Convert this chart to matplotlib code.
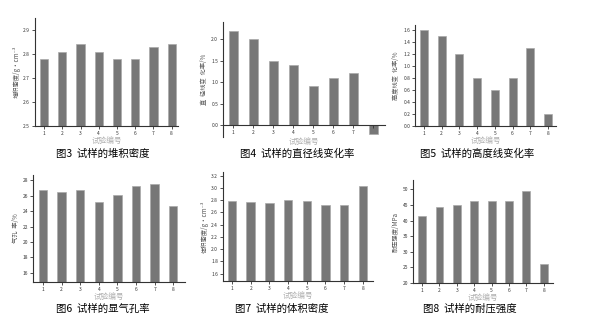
import numpy as np
import matplotlib
matplotlib.use('Agg')
import matplotlib.pyplot as plt

plt.rcParams['font.family'] = ['Noto Sans CJK SC', 'DejaVu Sans']
plt.rcParams['axes.unicode_minus'] = False

W, H = 608, 334

samples = [1, 2, 3, 4, 5, 6, 7, 8]

# 各图数据
bulk_density = [2.78, 2.81, 2.84, 2.81, 2.78, 2.78, 2.83, 2.84]
diam_change = [2.2, 2.0, 1.5, 1.4, 0.9, 1.1, 1.2, -0.2]
height_change = [1.6, 1.5, 1.2, 0.8, 0.6, 0.8, 1.3, 0.2]
porosity = [26.8, 26.45, 26.7, 25.2, 26.05, 27.25, 27.5, 24.7]
vol_density = [2.79, 2.77, 2.75, 2.81, 2.78, 2.72, 2.72, 3.03]
strength = [41.4, 44.5, 44.9, 46.3, 46.3, 46.3, 49.5, 26.0]

captions = ['图3  试样的堆积密度', '图4  试样的直径线变化率', '图5  试样的高度线变化率',
            '图6  试样的显气孔率', '图7  试样的体积密度', '图8  试样的耐压强度']
ylabels = ['堆积密度/g·cm⁻³', '直  径线变  化率/%', '高度线变  化率/%',
           '气孔  率/%', '体积密度/g·cm⁻³', '耐压强度/MPa']

# (left, right, top, bottom) 像素, xlim, ylim, yticks
panels = [
    (bulk_density, (35, 178, 18, 126), (0.5, 8.35), (2.5, 2.95), np.arange(2.5, 2.91, 0.1), '%.1f'),
    (diam_change, (223, 385, 22, 137), (0.5, 8.6), (-0.28, 2.4), np.arange(0, 2.01, 0.5), '%.1f'),
    (height_change, (415, 556, 25, 126), (0.5, 8.45), (0, 1.68), np.arange(0, 1.61, 0.2), '%.1f'),
    (porosity, (33, 185, 175, 282), (0.46, 8.63), (14.8, 28.7), np.arange(16, 28.1, 2), '%d'),
    (vol_density, (223, 373, 172, 281), (0.52, 8.54), (1.48, 3.26), np.arange(1.6, 3.21, 0.2), '%.1f'),
    (strength, (413, 553, 180, 283), (0.48, 8.53), (20, 53), np.arange(20, 50.1, 5), '%d'),
]
cap_pos = [(103, 154), (297, 154), (477, 154), (103, 309), (282, 309), (470, 309)]

fig = plt.figure(figsize=(W / 100, H / 100), dpi=100)

for i, (vals, (l, r, t, b), xl, yl, yt, fmt) in enumerate(panels):
    ax = fig.add_axes([l / W, 1 - b / H, (r - l) / W, (b - t) / H])
    ax.bar(samples, vals, width=0.45, color='#777777', edgecolor='#aaaaaa', linewidth=0.5)
    ax.set_xlim(*xl)
    ax.set_ylim(*yl)
    ax.set_yticks(yt)
    ax.set_yticklabels([fmt % v for v in yt])
    ax.set_xticks(samples)
    if i == 1:
        ax.set_xticklabels([str(s) for s in samples[:7]] + [''])
        ax.spines['bottom'].set_position(('data', 0))
    for s in ['top', 'right']:
        ax.spines[s].set_visible(False)
    for s in ['left', 'bottom']:
        ax.spines[s].set_linewidth(0.8)
        ax.spines[s].set_color('#333333')
    ax.tick_params(labelsize=3.5, length=2, width=0.6, pad=1.5, colors='#333333')
    ax.set_ylabel(ylabels[i], fontsize=4.5, color='#555555', labelpad=2)
    ax.set_xlabel('试验编号', fontsize=5.5, color='#b0b0b0', labelpad=1)
    if i == 1:
        ax.xaxis.set_label_coords(0.5, -0.005)
    cx, cy = cap_pos[i]
    fig.text(cx / W, 1 - cy / H, captions[i], fontsize=7.5, ha='center', va='center', color='black')

fig.savefig('out.png', dpi=100)
